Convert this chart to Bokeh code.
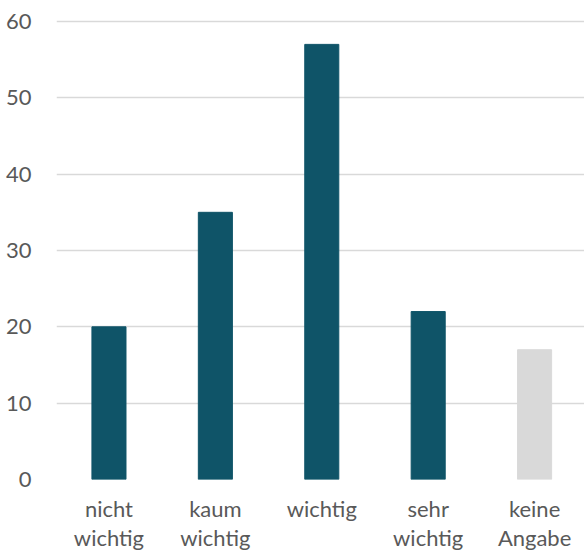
from bokeh.plotting import figure
from bokeh.models import ColumnDataSource, Range1d, SingleIntervalTicker, FixedTicker
from bokeh.embed import file_html
from bokeh.resources import INLINE

categories = ["nicht\nwichtig", "kaum\nwichtig", "wichtig", "sehr\nwichtig", "keine\nAngabe"]
values = [20, 35, 57, 22, 17]
colors = ["#0F5468", "#0F5468", "#0F5468", "#0F5468", "#D9D9D9"]

xs = list(range(len(categories)))
src = ColumnDataSource(dict(x=xs, val=values, color=colors))

p = figure(x_range=Range1d(-0.493, 4.469), y_range=Range1d(0, 60.39), width=584, height=554,
           output_backend="svg", toolbar_location=None,
           min_border_left=56, min_border_right=0, min_border_top=18, min_border_bottom=74)
p.vbar(x="x", top="val", width=0.32, color="color", source=src)

p.outline_line_color = None
p.background_fill_color = "white"
p.border_fill_color = "white"
p.xgrid.grid_line_color = None
p.ygrid.grid_line_color = "#D9D9D9"
p.ygrid.grid_line_width = 1.5
p.yaxis.ticker = SingleIntervalTicker(interval=10)
p.xaxis.ticker = FixedTicker(ticks=xs)
p.xaxis.major_label_overrides = {i: c for i, c in zip(xs, categories)}
for ax in (p.xaxis[0], p.yaxis[0]):
    ax.axis_line_color = None
    ax.major_tick_line_color = None
    ax.minor_tick_line_color = None
    ax.major_tick_out = 0
    ax.major_tick_in = 0
    ax.major_label_text_font = "Lato"
    ax.major_label_text_font_size = "22px"
    ax.major_label_text_color = "#595959"
p.xaxis.major_label_text_line_height = 1.1
p.xaxis.major_label_standoff = 15
p.yaxis.major_label_standoff = 21

open("out.html", "w").write(file_html(p, INLINE))
